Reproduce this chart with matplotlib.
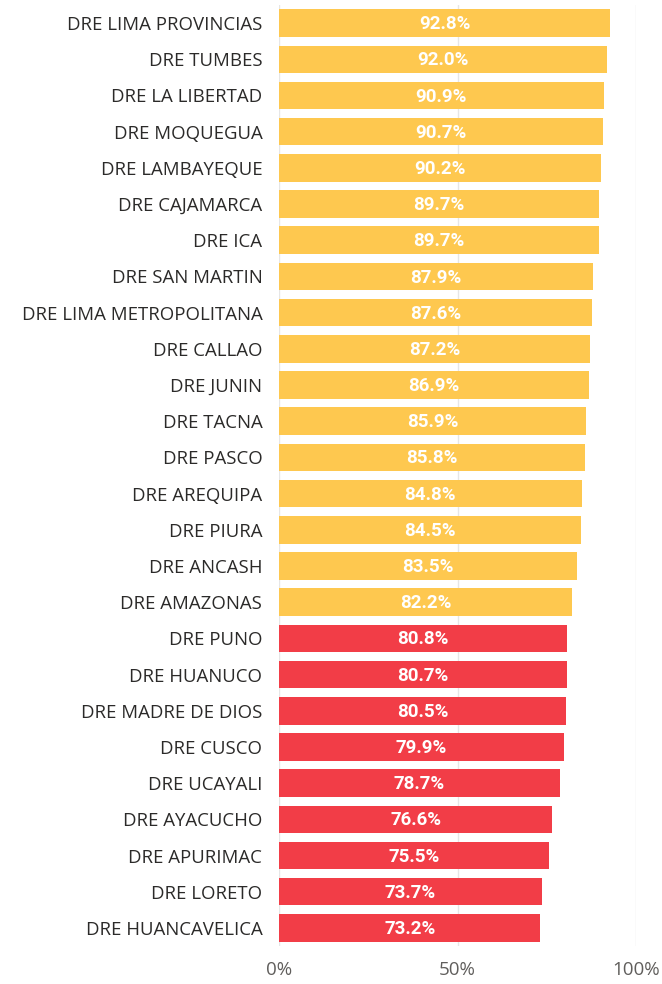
import matplotlib
matplotlib.use("Agg")
import matplotlib.pyplot as plt

# Datos
regiones = ["DRE LIMA PROVINCIAS", "DRE TUMBES", "DRE LA LIBERTAD", "DRE MOQUEGUA",
            "DRE LAMBAYEQUE", "DRE CAJAMARCA", "DRE ICA", "DRE SAN MARTIN",
            "DRE LIMA METROPOLITANA", "DRE CALLAO", "DRE JUNIN", "DRE TACNA",
            "DRE PASCO", "DRE AREQUIPA", "DRE PIURA", "DRE ANCASH", "DRE AMAZONAS",
            "DRE PUNO", "DRE HUANUCO", "DRE MADRE DE DIOS", "DRE CUSCO",
            "DRE UCAYALI", "DRE AYACUCHO", "DRE APURIMAC", "DRE LORETO",
            "DRE HUANCAVELICA"]
valores = [92.8, 92.0, 90.9, 90.7, 90.2, 89.7, 89.7, 87.9, 87.6, 87.2, 86.9, 85.9,
           85.8, 84.8, 84.5, 83.5, 82.2, 80.8, 80.7, 80.5, 79.9, 78.7, 76.6, 75.5,
           73.7, 73.2]
umbral = 81.0

amarillo = "#FEC84F"
rojo = "#F23D47"
colores = [amarillo if v >= umbral else rojo for v in valores]

fig = plt.figure(figsize=(6.62, 9.84), dpi=100)
ax = fig.add_axes([279/662, 1 - 946/984, (636-279)/662, (946-5)/984])

pos = list(range(len(regiones)))
ax.barh(pos, valores, height=0.76, color=colores, zorder=2)

for p, v in zip(pos, valores):
    ax.text(v / 2, p + 0.03, f"{v:.1f}%", ha="center", va="center", color="white",
            fontsize=13.5, fontweight="bold", family="Roboto", zorder=3)

ax.set_xlim(0, 100)
ax.set_ylim(len(regiones) - 0.5, -0.5)
ax.set_yticks(pos)
ax.set_yticklabels(regiones, fontsize=13.4, family="Open Sans", color="#2B2A29")
ax.set_xticks([0, 50, 100])
ax.set_xticklabels(["0%", "50%", "100%"], fontsize=13.5, family="Open Sans", color="#605E5C")
ax.tick_params(length=0)
ax.tick_params(axis="y", pad=12)
ax.tick_params(axis="x", pad=11)
ax.grid(axis="x", color="#E6E6E6", linewidth=1, zorder=0)
for s in ax.spines.values():
    s.set_visible(False)

plt.savefig("out.png", dpi=100)
plt.close()
